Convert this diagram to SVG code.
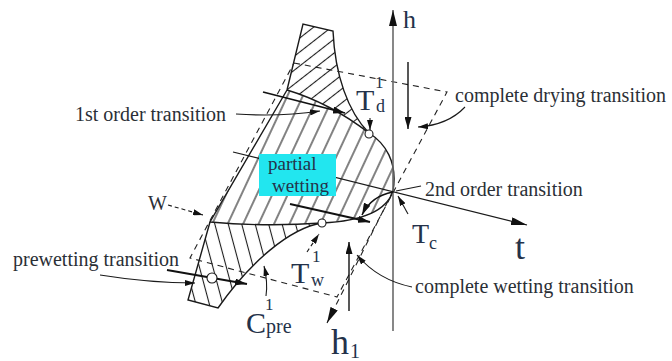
<svg xmlns="http://www.w3.org/2000/svg" width="672" height="361" viewBox="0 0 672 361">
<style>
  .lbl{font-family:"Liberation Serif","Times New Roman",serif;fill:#2b2f36;font-size:20px}
  .sym{font-family:"Liberation Serif","Times New Roman",serif;fill:#24324a}
  .bd{fill:none;stroke:#1a1a1a;stroke-width:1.4}
  .dash{fill:none;stroke:#222;stroke-width:1.1;stroke-dasharray:6 5}
  .ptr{fill:none;stroke:#1a1a1a;stroke-width:1.1}
  .thick{fill:none;stroke:#111;stroke-width:1.8}
</style>
<defs>
  <pattern id="hatchTop" width="11" height="20" patternUnits="userSpaceOnUse" patternTransform="rotate(52)">
    <line x1="5.5" y1="0" x2="5.5" y2="20" stroke="#1a1a1a" stroke-width="1.1"/>
  </pattern>
  <pattern id="hatchMid" width="14" height="20" patternUnits="userSpaceOnUse" patternTransform="rotate(25)">
    <line x1="7" y1="0" x2="7" y2="20" stroke="#1a1a1a" stroke-width="1.1"/>
  </pattern>
  <pattern id="hatchLow" width="13" height="20" patternUnits="userSpaceOnUse" patternTransform="rotate(-15)">
    <line x1="6.5" y1="0" x2="6.5" y2="20" stroke="#1a1a1a" stroke-width="1.1"/>
  </pattern>
  <marker id="big" viewBox="0 0 16 8" refX="16" refY="4" markerWidth="16" markerHeight="8" orient="auto" markerUnits="userSpaceOnUse">
    <path d="M0,0 L16,4 L0,8 Z" fill="#111"/>
  </marker>
  <marker id="mid" viewBox="0 0 12 7" refX="12" refY="3.5" markerWidth="12" markerHeight="7" orient="auto" markerUnits="userSpaceOnUse">
    <path d="M0,0 L12,3.5 L0,7 Z" fill="#111"/>
  </marker>
  <marker id="sm" viewBox="0 0 10 6" refX="10" refY="3" markerWidth="10" markerHeight="6" orient="auto" markerUnits="userSpaceOnUse">
    <path d="M0,0 L10,3 L0,6 Z" fill="#111"/>
  </marker>
</defs>
<rect width="672" height="361" fill="#fff"/>

<g id="region-top">
  <path d="M303,24 L333,31 C335,75 348,112 369,133 Q330,103 287,90 Z" fill="url(#hatchTop)" stroke="none"/>
  <path class="bd" d="M287,90 L303,24 L333,31 C335,75 348,112 369,133"/>
</g>
<g id="region-partial-wetting">
  <path d="M287,90 Q330,103 369,133 C385,143 398,162 393,191 C387,210 365,221 322,223 Q266,227 210,222 Z" fill="url(#hatchMid)" stroke="none"/>
  <path class="bd" d="M287,90 Q330,103 369,133 C385,143 398,162 393,191 C387,210 365,221 322,223 Q266,227 210,222 L287,90"/>
</g>
<g id="region-low">
  <path d="M210,222 Q266,227 322,223 C290,228 250,262 218,308 L188,300 Z" fill="url(#hatchLow)" stroke="none"/>
  <path class="bd" d="M322,223 C290,228 250,262 218,308 L188,300 L210,222"/>
</g>

<g id="connectors">
  <path class="dash" d="M294,63 L447,92 L337,297 L190,258 Z"/>
  <line x1="393" y1="331" x2="393" y2="10" stroke="#6a6a6a" stroke-width="1.6" marker-end="url(#big)"/>
  <line x1="233" y1="152" x2="527" y2="225" stroke="#1a1a1a" stroke-width="1.2" marker-end="url(#big)"/>
  <line class="dash" x1="393" y1="191" x2="327" y2="323" marker-end="url(#big)"/>
  <line x1="408" y1="62" x2="408" y2="129" stroke="#111" stroke-width="1.4" marker-end="url(#mid)"/>
  <line x1="349" y1="311" x2="349" y2="242" stroke="#111" stroke-width="1.4" marker-end="url(#mid)"/>
  <line class="thick" x1="263" y1="92" x2="345" y2="113" marker-end="url(#mid)"/>
  <line class="thick" x1="290" y1="204" x2="370" y2="222" marker-end="url(#mid)"/>
  <line class="thick" x1="167" y1="270" x2="247" y2="284" marker-end="url(#mid)"/>
  <path d="M393,192 Q371,196 362,215" fill="none" stroke="#111" stroke-width="1.5" marker-end="url(#mid)"/>
  <path class="ptr" d="M236,114 Q280,117 320,111" marker-end="url(#sm)"/>
  <path class="ptr" d="M465,107 Q448,125 418,127" marker-end="url(#sm)"/>
  <path class="ptr" d="M412,287 Q378,280 357,255" marker-end="url(#sm)"/>
  <path class="ptr" d="M421,186 L396,191"/>
  <path class="ptr" d="M408,214 L398,196" marker-end="url(#sm)"/>
  <path class="ptr" d="M100,275 Q150,283 195,283" marker-end="url(#sm)"/>
  <path class="ptr" d="M168,205 L203,215" stroke-dasharray="4 3" marker-end="url(#sm)"/>
  <path class="ptr" d="M370,118 L370,130" marker-end="url(#sm)"/>
  <path class="ptr" d="M307,252 L319,234" stroke-dasharray="4 3" marker-end="url(#sm)"/>
  <path class="ptr" d="M266,296 Q268,282 264,266" marker-end="url(#sm)"/>
</g>

<g id="points">
  <circle cx="369" cy="134" r="4" fill="#fff" stroke="#1a1a1a" stroke-width="1.1"/>
  <circle cx="322" cy="223" r="4" fill="#fff" stroke="#1a1a1a" stroke-width="1.1"/>
  <circle cx="212" cy="278" r="5" fill="#fff" stroke="#1a1a1a" stroke-width="1.1"/>
</g>

<g id="partial-wetting">
  <rect x="259" y="154" width="77" height="42" fill="#22e6ef"/>
  <text class="sym" x="268" y="170" font-size="19">partial</text>
  <text class="sym" x="272" y="192" font-size="19">wetting</text>
</g>

<g id="labels">
  <text class="lbl" x="75" y="121">1st order transition</text>
  <text class="lbl" x="455" y="102">complete drying transition</text>
  <text class="lbl" x="425" y="196">2nd order transition</text>
  <text class="lbl" x="415" y="293">complete wetting transition</text>
  <text class="lbl" x="13" y="266">prewetting transition</text>
  <text class="lbl" x="148" y="210">W</text>
  <text class="sym" x="403" y="28" font-size="26">h</text>
  <text class="sym" x="515" y="259" font-size="36">t</text>
  <text class="sym" x="331" y="354" font-size="36">h</text>
  <text class="sym" x="350" y="358" font-size="20">1</text>
  <text class="sym" x="412" y="243" font-size="28">T</text>
  <text class="sym" x="429" y="249" font-size="18">c</text>
  <text class="sym" x="356" y="110" font-size="30">T</text>
  <text class="sym" x="375" y="88" font-size="17">1</text>
  <text class="sym" x="376" y="112" font-size="18">d</text>
  <text class="sym" x="291" y="283" font-size="30">T</text>
  <text class="sym" x="312" y="262" font-size="17">1</text>
  <text class="sym" x="311" y="286" font-size="18">w</text>
  <text class="sym" x="246" y="333" font-size="30">C</text>
  <text class="sym" x="265" y="310" font-size="17">1</text>
  <text class="sym" x="266" y="333" font-size="20">pre</text>
</g>
</svg>
